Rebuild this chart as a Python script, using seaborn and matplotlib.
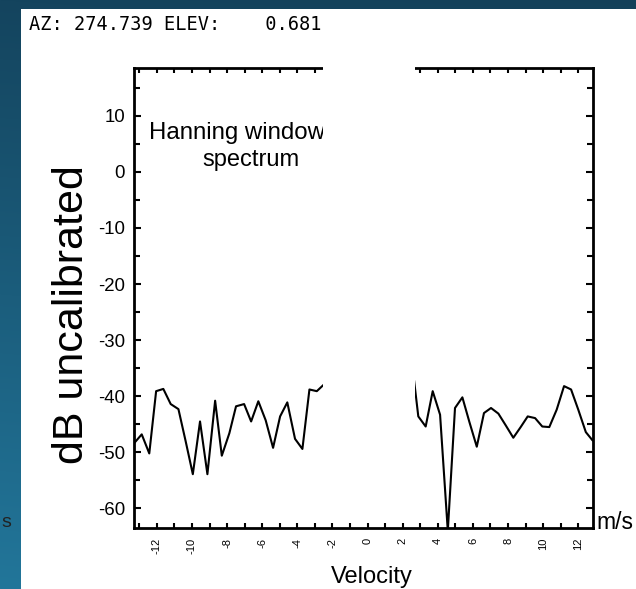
import numpy as np
import pandas as pd
import matplotlib
matplotlib.use("Agg")
import matplotlib.pyplot as plt
from matplotlib.patches import Rectangle
from matplotlib.ticker import MultipleLocator
import seaborn as sns

# ---- data ----
vel_left = [-13.3, -12.86, -12.43, -12.04, -11.63, -11.21, -10.77, -10.36, -9.95, -9.54,
            -9.12, -8.68, -8.30, -7.87, -7.49, -7.03, -6.63, -6.22, -5.80, -5.38,
            -4.98, -4.57, -4.13, -3.71, -3.31, -2.89, -2.48]
db_left = [-48.4, -46.8, -50.2, -39.1, -38.7, -41.4, -42.3, -48.0, -53.9, -44.5,
           -53.9, -40.8, -50.6, -46.6, -41.8, -41.4, -44.5, -40.9, -44.3, -49.2,
           -43.6, -41.1, -47.6, -49.4, -38.8, -39.1, -37.9]
vel_right = [2.65, 2.89, 3.31, 3.71, 4.13, 4.57, 4.98, 5.40, 5.80, 6.22,
             6.63, 7.03, 7.45, 7.87, 8.30, 8.72, 9.12, 9.54, 9.95, 10.35,
             10.77, 11.19, 11.59, 12.00, 12.43, 12.82]
db_right = [-37.2, -43.6, -45.4, -39.1, -43.3, -64.0, -42.1, -40.2, -44.6, -49.0,
            -43.0, -42.1, -43.1, -45.2, -47.4, -45.5, -43.6, -43.9, -45.4, -45.5,
            -42.4, -38.2, -38.8, -42.4, -46.4, -47.9]

y_ticks = [-60, -50, -40, -30, -20, -10, 0, 10]
x_ticks = list(range(-13, 13))
x_labels = [str(v) if v % 2 == 0 else "" for v in x_ticks]

title_text = "AZ: 274.739 ELEV:    0.681"

df = pd.DataFrame({
    "velocity": vel_left + vel_right,
    "dB": db_left + db_right,
    "segment": ["left"] * len(vel_left) + ["right"] * len(vel_right),
})

# ---- style ----
sns.set_style("ticks")
plt.rcParams["font.family"] = ["Liberation Sans", "DejaVu Sans"]
plt.rcParams["axes.unicode_minus"] = False
for key in ["text.color", "axes.labelcolor", "xtick.color", "ytick.color",
            "xtick.labelcolor", "ytick.labelcolor"]:
    plt.rcParams[key] = "black"

W, H = 636, 589
fig = plt.figure(figsize=(W / 100, H / 100), dpi=100)

# background: blue gradient frame with white page
bg = fig.add_axes([0, 0, 1, 1], zorder=-10)
t = np.linspace(0, 1, H)[:, None]
s = np.linspace(0, 1, W)[None, :]
top_c = np.array([20, 68, 94]) / 255
bot_c = np.array([34, 118, 154]) / 255
img = top_c[None, None, :] * (1 - t[..., None]) + bot_c[None, None, :] * t[..., None]
img = img * (1 - 0.05 * s[..., None])
bg.imshow(np.broadcast_to(img, (H, W, 3)), extent=[0, W, H, 0], aspect="auto")
bg.add_patch(Rectangle((21, 9), W - 21, H - 9, facecolor="white", edgecolor="none"))
bg.set_xlim(0, W)
bg.set_ylim(H, 0)
bg.axis("off")

# main axes (pixel-based placement)
left, right, top, bottom = 134, 592.5, 68, 527.5
ax = fig.add_axes([left / W, 1 - bottom / H, (right - left) / W, (bottom - top) / H])
ax.set_facecolor("white")

sns.lineplot(data=df, x="velocity", y="dB", units="segment", estimator=None,
             color="black", linewidth=1.5, ax=ax, legend=False)

ax.set_xlim(-13.3, 12.81)
ax.set_ylim(-63.4, 18.5)

ax.set_yticks(y_ticks)
ax.set_yticklabels([str(v) for v in y_ticks], fontsize=13.4, color="black")
ax.yaxis.set_minor_locator(MultipleLocator(5))
ax.set_xticks(x_ticks)
ax.set_xticklabels(x_labels, fontsize=8, rotation=90, color="black")

ax.tick_params(axis="y", which="major", direction="in", length=5, width=1.5,
               left=True, right=True, labelleft=True, pad=6.5, color="black")
ax.tick_params(axis="y", which="minor", direction="in", length=4.3, width=1.5,
               left=True, right=True, color="black")
ax.tick_params(axis="x", which="major", direction="in", length=3.8, width=1.5,
               bottom=True, top=True, pad=7.5, color="black")
for sp in ax.spines.values():
    sp.set_visible(True)
    sp.set_linewidth(2.0)
    sp.set_color("black")
ax.set_xlabel("")
ax.set_ylabel("")

# in-plot annotation
ax.text(-12.45, 10 - (139 - 115.7) / 5.609, "Hanning window", fontsize=17.3,
        ha="left", va="baseline", color="black")
fig.text(251 / W, 1 - 166 / H, "spectrum", fontsize=17, ha="center",
         va="baseline", color="black")

# figure labels
fig.text(72 / W, 1 - 315 / H, "dB uncalibrated", rotation=90, fontsize=31,
         ha="center", va="center", color="black")
fig.text(372 / W, 1 - 583 / H, "Velocity", fontsize=17, ha="center",
         va="baseline", color="black")
fig.text(596 / W, 1 - 529 / H, "m/s", fontsize=16.5, ha="left",
         va="baseline", color="black")
fig.text(1 / W, 1 - 527 / H, "s", fontsize=14, ha="left", va="baseline",
         color="#222222")
fig.text(29 / W, 1 - 30 / H, title_text, fontsize=13.4,
         family="DejaVu Sans Mono", ha="left", va="baseline", color="black")

# white cover over the clutter region (as in the reference)
fig.patches.append(Rectangle((323 / W, 1 - 519 / H), (414.5 - 323) / W,
                             (519 - 55) / H, transform=fig.transFigure,
                             facecolor="white", edgecolor="none", zorder=5))

fig.savefig("out.png", dpi=100)
